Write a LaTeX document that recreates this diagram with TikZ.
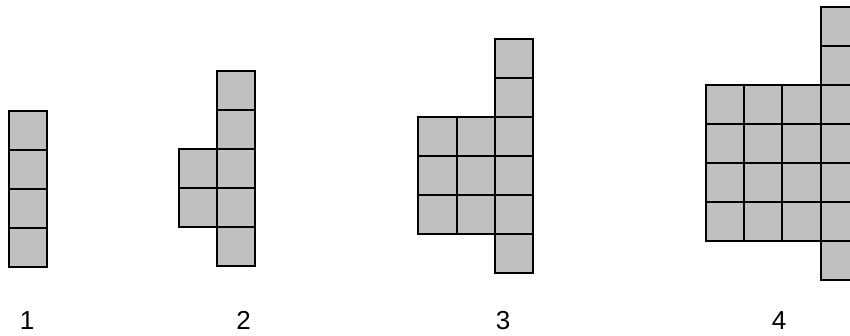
\documentclass[tikz,border=0pt]{standalone}
\usepackage{fontspec}
\setmainfont{Liberation Sans}
\definecolor{cellgray}{RGB}{192,192,192}
\begin{document}
\begin{tikzpicture}[x=1pt,y=-1pt,
  cell/.style={draw,fill=cellgray,line width=2pt,minimum width=38.4pt,minimum height=39pt,
               inner sep=0pt,outer sep=0pt},
  lab/.style={anchor=base,font=\fontsize{26}{30}\selectfont}]
  \useasboundingbox (0,0) rectangle (850,335);
  \clip (0,0) rectangle (850,335);
  \foreach \n/\xa/\ya/\lx in {1/8.5/111.4/27,2/217/71/243.5,3/495/39/503,4/820.7/7.3/779}{
    \pgfmathtruncatemacro\last{\n+2}
    \foreach \k in {0,...,\last} \node[cell] (c\n-\k-0) at (\xa+19.2,\ya+19.5+\k*39) {};
    \ifnum\n>1
      \pgfmathtruncatemacro\wide{\n-1}
      \pgfmathtruncatemacro\low{\n+1}
      \foreach \j in {1,...,\wide} \foreach \k in {2,...,\low}
        \node[cell] (c\n-\k-\j) at (\xa+19.2-\j*38.4,\ya+19.5+\k*39) {};
    \fi
    \node[lab] (lab\n) at (\lx,329) {\n};
  }
\end{tikzpicture}
\end{document}
